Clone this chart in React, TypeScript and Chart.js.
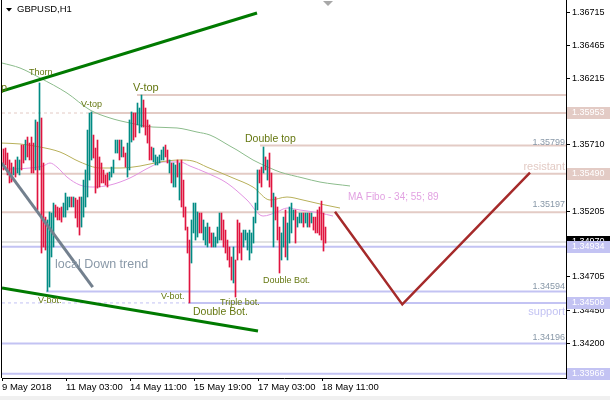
import React, { useEffect, useRef } from 'react';
import { Chart, registerables } from 'chart.js';

Chart.register(...registerables);

// ---------------- data ----------------
const symbolTitle = 'GBPUSD,H1';
const xTickLabels = ['9 May 2018', '11 May 03:00', '14 May 11:00', '15 May 19:00', '17 May 03:00', '18 May 11:00'];
const xTickBars = [-0.75, 31.25, 63.25, 95.25, 127.25, 159.25];
const yTickValues = [1.36715, 1.36465, 1.36215, 1.3596, 1.3571, 1.3546, 1.35205, 1.34955, 1.34705, 1.3445, 1.342, 1.3395];
const xMin = -0.75;
const xMax = 281.25;
const yMin = 1.33934;
const yMax = 1.36814;

const barHigh = [
  1.35679, 1.35686, 1.35648, 1.35595, 1.35572, 1.35541, 1.35595, 1.35618, 1.35595, 1.35709,
  1.35709, 1.35747, 1.3577, 1.35724, 1.3577, 1.35724, 1.359, 1.35884, 1.36182, 1.35915,
  1.35572, 1.3516, 1.35138, 1.35199, 1.35191, 1.35267, 1.35252, 1.35237, 1.35229, 1.35237,
  1.35267, 1.35343, 1.35313, 1.35313, 1.35313, 1.35313, 1.35305, 1.3529, 1.35313, 1.35313,
  1.35442, 1.35519, 1.35823, 1.35953, 1.35961, 1.35785, 1.35686, 1.35747, 1.35618, 1.35572,
  1.35519, 1.35481, 1.35496, 1.35503, 1.35541, 1.35595, 1.35747, 1.35747, 1.35747, 1.35747,
  1.35694, 1.35648, 1.35724, 1.359, 1.35961, 1.35953, 1.35953, 1.36029, 1.35991, 1.3609,
  1.36052, 1.35991, 1.359, 1.35862, 1.35694, 1.35686, 1.35633, 1.35618, 1.35633, 1.35671,
  1.35694, 1.35709, 1.35671, 1.35595, 1.35572, 1.35572, 1.35557, 1.35595, 1.35572, 1.35595,
  1.35442, 1.35237, 1.35084, 1.34985, 1.35138, 1.35267, 1.35267, 1.35199, 1.35191, 1.35191,
  1.35138, 1.35084, 1.35115, 1.35084, 1.35039, 1.35039, 1.35008, 1.35084, 1.35191, 1.35191,
  1.35138, 1.35061, 1.34985, 1.34932, 1.34856, 1.34932, 1.34833, 1.35138, 1.35115, 1.35039,
  1.35061, 1.35061, 1.35039, 1.35061, 1.35039, 1.3516, 1.35267, 1.35519, 1.35519, 1.35541,
  1.35694, 1.35618, 1.35595, 1.35648, 1.35496, 1.35343, 1.35313, 1.35237, 1.35084, 1.35039,
  1.3516, 1.35214, 1.35115, 1.35237, 1.35267, 1.35214, 1.35214, 1.3516, 1.35191, 1.35191,
  1.35191, 1.35191, 1.35191, 1.35191, 1.35191, 1.3516, 1.3516, 1.35214, 1.35237, 1.35282,
  1.35191, 1.35084,
];
const barLow = [
  1.35519, 1.35557, 1.35481, 1.3542, 1.35427, 1.35481, 1.35465, 1.35496, 1.35481, 1.35519,
  1.35572, 1.35595, 1.35618, 1.35595, 1.35496, 1.35496, 1.35519, 1.35214, 1.35519, 1.34886,
  1.34932, 1.34909, 1.34594, 1.34627, 1.34856, 1.34932, 1.3516, 1.35138, 1.35138, 1.35122,
  1.3516, 1.3516, 1.35214, 1.35237, 1.35237, 1.35237, 1.35153, 1.35084, 1.35023, 1.35084,
  1.3516, 1.35237, 1.35313, 1.35442, 1.35595, 1.3561, 1.35343, 1.35381, 1.35389, 1.3542,
  1.3542, 1.35404, 1.35389, 1.35442, 1.35465, 1.35496, 1.35648, 1.35648, 1.35595, 1.35618,
  1.35618, 1.35541, 1.35465, 1.35519, 1.35732, 1.35747, 1.3577, 1.35862, 1.35801, 1.35846,
  1.35846, 1.35785, 1.35724, 1.35595, 1.35595, 1.3558, 1.35557, 1.35557, 1.35572, 1.35595,
  1.35595, 1.35618, 1.35572, 1.35496, 1.3542, 1.35389, 1.35389, 1.35465, 1.3529, 1.35237,
  1.3516, 1.35061, 1.34886, 1.34506, 1.3481, 1.35039, 1.34985, 1.35008, 1.35039, 1.35039,
  1.34985, 1.34947, 1.34932, 1.34962, 1.34932, 1.34932, 1.34932, 1.34962, 1.34985, 1.34985,
  1.34932, 1.34886, 1.34833, 1.34779, 1.3468, 1.34658, 1.34551, 1.34833, 1.34886, 1.34833,
  1.34932, 1.34985, 1.34909, 1.34833, 1.34886, 1.34962, 1.35115, 1.35214, 1.3542, 1.35389,
  1.35496, 1.35519, 1.35442, 1.35389, 1.35237, 1.34932, 1.35138, 1.34985, 1.34734, 1.34833,
  1.34932, 1.34856, 1.34833, 1.34962, 1.35039, 1.35138, 1.34962, 1.35084, 1.35115, 1.35115,
  1.35084, 1.35115, 1.35084, 1.35084, 1.35115, 1.35061, 1.35039, 1.35039, 1.35023, 1.34985,
  1.34901, 1.34962,
];
const barUp = [
  0, 0, 0, 0, 0, 1, 0, 1, 1, 0,
  0, 1, 0, 0, 0, 0, 1, 0, 1, 0,
  0, 0, 1, 1, 1, 1, 0, 0, 0, 0,
  1, 1, 1, 1, 0, 1, 0, 0, 0, 1,
  1, 1, 1, 1, 1, 0, 0, 0, 0, 0,
  0, 0, 0, 1, 1, 1, 1, 1, 0, 1,
  0, 0, 1, 1, 1, 0, 0, 1, 1, 1,
  0, 0, 0, 0, 0, 1, 1, 1, 1, 1,
  1, 0, 0, 1, 0, 1, 1, 0, 1, 0,
  0, 0, 0, 0, 1, 1, 1, 1, 0, 0,
  1, 1, 1, 0, 0, 1, 1, 1, 1, 0,
  0, 0, 0, 0, 0, 1, 0, 0, 0, 0,
  1, 1, 1, 1, 1, 1, 1, 1, 0, 0,
  1, 0, 1, 0, 0, 1, 0, 0, 0, 1,
  1, 0, 1, 1, 1, 1, 0, 1, 1, 1,
  0, 1, 1, 0, 1, 0, 0, 0, 0, 0,
  0, 0,
];

// Moving averages (34, 55, 89)
const ma89X = [-0.75, 8.25, 18.25, 31.75, 43.25, 53.25, 63.25, 74.75, 86.75, 96.75, 103.25, 113.25, 116.75, 124.75, 133.25, 138.25, 149.75, 158.25, 173.25];
const ma89Y = [1.36334, 1.36296, 1.3622, 1.36105, 1.35976, 1.35915, 1.35877, 1.35846, 1.35839, 1.35808, 1.35785, 1.35701, 1.35671, 1.35595, 1.35534, 1.35503, 1.35458, 1.35427, 1.35397];
const ma55X = [-0.75, 8.25, 18.25, 28.25, 38.25, 48.25, 58.25, 68.25, 78.25, 88.25, 94.75, 101.75, 114.75, 124.75, 133.25, 141.75, 149.75, 158.25, 168.25];
const ma55Y = [1.35724, 1.35717, 1.35694, 1.35656, 1.3558, 1.35534, 1.35534, 1.35549, 1.3558, 1.35595, 1.35587, 1.35541, 1.35458, 1.35389, 1.3529, 1.35313, 1.3529, 1.3526, 1.35229];
const ma34X = [-0.75, 3.25, 13.25, 19.75, 23.25, 26.75, 31.75, 38.25, 44.75, 53.25, 63.25, 73.25, 79.75, 88.25, 93.25, 101.75, 111.75, 121.75, 129.75, 136.75, 141.75, 148.25, 158.25, 164.75];
const ma34Y = [1.35534, 1.35526, 1.35534, 1.35549, 1.35572, 1.35541, 1.35465, 1.35404, 1.35389, 1.35404, 1.35458, 1.35541, 1.3558, 1.3558, 1.35549, 1.35496, 1.35419, 1.3529, 1.35168, 1.35199, 1.35229, 1.35214, 1.35191, 1.35168];

// Horizontal levels
const levelPrices = [1.3609, 1.35953, 1.35705, 1.3549, 1.35197, 1.34934, 1.34594, 1.34506, 1.34196, 1.33966];
const levelStartBars = [66.75, 43.25, 128.25, -0.75, -0.75, -0.75, 21.25, 92.25, -0.75, -0.75];
const levelKinds = ['r', 'r', 'r', 'r', 'r', 's', 's', 's', 's', 's'];
const dashedLevelPrices = [1.35953, 1.34506];
const dashedLevelEnds = [43.25, 92.25];
const dashedLevelKinds = ['r', 's'];
const currentPrice = 1.3497;

// Trend lines
const upperChannelX = [-0.75, 126.75];
const upperChannelY = [1.36121, 1.36715];
const lowerChannelX = [-0.75, 127.25];
const lowerChannelY = [1.34619, 1.34292];
const downTrendX = [-0.9, 44.6];
const downTrendY = [1.35572, 1.34627];
const forecastX = [165.75, 199.4, 263.25];
const forecastY = [1.35201, 1.34495, 1.35498];

// Price tags on the axis
const tagPrices = [1.35953, 1.3549, 1.34934, 1.34506, 1.33966];
const tagKinds = ['r', 'r', 's', 's', 's'];

// Text annotations
const noteTexts = ['V-top', 'Thorn', 'V-top', 'V-top', 'Double top', 'MA Fibo - 34; 55; 89', 'local Down trend', 'V-bot.', 'V-bot.', 'Triple bot.', 'Double Bot.', 'Double Bot.', 'resistant', 'support', '1.35799', '1.35197', '1.34594', '1.34196'];
const noteBars = [1.75, 12.75, 38.75, 64.75, 120.75, 172.25, 25.75, 17.25, 78.75, 108.25, 94.75, 129.75, 280.75, 280.75, 280.75, 280.75, 280.75, 280.75];
const notePrices = [1.3614, 1.36258, 1.36014, 1.36143, 1.35755, 1.35313, 1.34795, 1.34524, 1.34555, 1.34509, 1.34437, 1.3468, 1.35541, 1.3444, 1.35727, 1.35252, 1.34629, 1.34241];
const noteKinds = ['bigR', 'pat', 'pat', 'big', 'mid', 'ma', 'trend', 'pat', 'pat', 'pat', 'mid', 'pat', 'res', 'sup', 'price', 'price', 'price', 'price'];

// ---------------- styles ----------------
const FONT = "'Liberation Sans', Arial, sans-serif";
const UP = '#008b84';
const DOWN = '#e0143f';
const RES = '#e3cbc5';
const SUP = '#c3c3f3';
const kindColor = (k: string) => (k === 'r' ? RES : SUP);
const noteStyle: Record<string, { size: number; color: string; align: CanvasTextAlign }> = {
  pat: { size: 9, color: '#667812', align: 'left' },
  big: { size: 11, color: '#667812', align: 'left' },
  bigR: { size: 11, color: '#667812', align: 'right' },
  mid: { size: 10.5, color: '#667812', align: 'left' },
  ma: { size: 10, color: '#e2a2e2', align: 'left' },
  trend: { size: 12.5, color: '#8a99a8', align: 'left' },
  res: { size: 11, color: RES, align: 'right' },
  sup: { size: 11, color: SUP, align: 'right' },
  price: { size: 9, color: '#8797a7', align: 'right' },
};

const pts = (xs: number[], ys: number[]) => xs.map((x, i) => ({ x, y: ys[i] }));

const overlay = {
  id: 'overlay',
  afterDatasetsDraw(chart: any) {
    const { ctx, chartArea: a, scales } = chart;
    const x = scales.x;
    const y = scales.y;
    ctx.save();
    ctx.beginPath();
    ctx.rect(a.left, a.top, a.right - a.left, a.bottom - a.top);
    ctx.clip();
    ctx.textBaseline = 'middle';
    noteTexts.forEach((t, i) => {
      const st = noteStyle[noteKinds[i]];
      ctx.font = `${st.size}px ${FONT}`;
      ctx.fillStyle = st.color;
      ctx.textAlign = st.align;
      ctx.fillText(t, x.getPixelForValue(noteBars[i]), y.getPixelForValue(notePrices[i]));
    });
    ctx.restore();
  },
  afterDraw(chart: any) {
    const { ctx, chartArea: a, scales } = chart;
    const y = scales.y;
    ctx.save();
    // left frame
    ctx.fillStyle = '#000';
    ctx.fillRect(1, 0, 1, a.bottom);
    // price tags
    ctx.font = `9px ${FONT}`;
    ctx.textBaseline = 'middle';
    ctx.textAlign = 'left';
    const tag = (p: number, bg: string) => {
      const py = Math.round(y.getPixelForValue(p));
      ctx.fillStyle = bg;
      ctx.fillRect(a.right + 1, py - 6, 610 - a.right - 1, 12);
      ctx.fillStyle = '#fff';
      ctx.fillText(p.toFixed(5), a.right + 6, py);
    };
    tag(currentPrice, '#000');
    tagPrices.forEach((p, i) => tag(p, kindColor(tagKinds[i])));
    // title
    ctx.fillStyle = '#000';
    ctx.beginPath();
    ctx.moveTo(6, 8);
    ctx.lineTo(12, 8);
    ctx.lineTo(9, 11.5);
    ctx.closePath();
    ctx.fill();
    ctx.font = `9.5px ${FONT}`;
    ctx.fillText(symbolTitle, 17, 9);
    // shift marker
    ctx.fillStyle = '#a8a8a8';
    ctx.beginPath();
    ctx.moveTo(323, 1);
    ctx.lineTo(333, 1);
    ctx.lineTo(328, 6);
    ctx.closePath();
    ctx.fill();
    // bottom strip
    ctx.fillStyle = '#f0f0f0';
    ctx.fillRect(0, 396, 610, 4);
    ctx.restore();
  },
};

export default function App() {
  const ref = useRef<HTMLCanvasElement>(null);
  useEffect(() => {
    document.body.style.margin = '0';
    const canvas = ref.current;
    if (!canvas) return;
    const datasets: any[] = [];
    const line = (data: any[], color: string, width: number, order: number, extra: any = {}) => ({
      type: 'line',
      data,
      borderColor: color,
      borderWidth: width,
      pointRadius: 0,
      fill: false,
      tension: 0,
      order,
      ...extra,
    });
    dashedLevelPrices.forEach((p, i) => {
      datasets.push(line([{ x: xMin, y: p }, { x: dashedLevelEnds[i], y: p }], kindColor(dashedLevelKinds[i]), 1, 9, { borderDash: [3, 3] }));
    });
    levelPrices.forEach((p, i) => {
      datasets.push(line([{ x: levelStartBars[i], y: p }, { x: xMax, y: p }], kindColor(levelKinds[i]), 2, 8));
    });
    datasets.push(line([{ x: xMin, y: currentPrice }, { x: xMax, y: currentPrice }], '#c4c4c4', 1, 8));
    datasets.push(line(pts(ma89X, ma89Y), '#8cbc8c', 1, 7, { cubicInterpolationMode: 'monotone' }));
    datasets.push(line(pts(ma55X, ma55Y), '#b8b05a', 1, 7, { cubicInterpolationMode: 'monotone' }));
    datasets.push(line(pts(ma34X, ma34Y), '#e293e2', 1, 7, { cubicInterpolationMode: 'monotone' }));
    datasets.push({
      type: 'bar',
      data: barHigh.map((h, i) => ({ x: i, y: [barLow[i], h] })),
      backgroundColor: barUp.map((u) => (u ? UP : DOWN)),
      barThickness: 1,
      borderWidth: 0,
      grouped: false,
      order: 5,
    });
    datasets.push(line(pts(upperChannelX, upperChannelY), '#007a00', 3, 3));
    datasets.push(line(pts(lowerChannelX, lowerChannelY), '#007a00', 3, 3));
    datasets.push(line(pts(downTrendX, downTrendY), '#73808e', 3, 3));
    datasets.push(line(pts(forecastX, forecastY), '#a52a2a', 2.5, 2));

    const chart = new Chart(canvas, {
      type: 'bar',
      data: { datasets },
      options: {
        responsive: false,
        animation: false,
        devicePixelRatio: 1,
        events: [],
        layout: { padding: { left: 2, right: 0, top: 0, bottom: 0 } },
        plugins: { legend: { display: false }, tooltip: { enabled: false } },
        scales: {
          x: {
            type: 'linear',
            min: xMin,
            max: xMax,
            offset: false,
            afterBuildTicks: (s: any) => {
              s.ticks = xTickBars.map((v) => ({ value: v }));
            },
            afterFit: (s: any) => {
              s.height = 22;
              s.paddingLeft = 0;
              s.paddingRight = 0;
            },
            ticks: {
              autoSkip: false,
              maxRotation: 0,
              align: 'start',
              padding: 1,
              color: '#000',
              font: { family: FONT, size: 9.5 },
              callback: (_v: any, i: number) => xTickLabels[i],
            },
            grid: { drawOnChartArea: false, drawTicks: true, tickLength: 3, color: '#000', offset: false },
            border: { display: true, color: '#000' },
          },
          y: {
            type: 'linear',
            position: 'right',
            min: yMin,
            max: yMax,
            afterBuildTicks: (s: any) => {
              s.ticks = yTickValues.map((v) => ({ value: v }));
            },
            afterFit: (s: any) => {
              s.width = 44;
              s.paddingTop = 0;
              s.paddingBottom = 0;
            },
            ticks: {
              padding: 2,
              color: '#000',
              font: { family: FONT, size: 9 },
              callback: (v: any) => Number(v).toFixed(5),
            },
            grid: { drawOnChartArea: false, drawTicks: true, tickLength: 4, color: '#000' },
            border: { display: true, color: '#000' },
          },
        },
      } as any,
      plugins: [overlay],
    });
    return () => chart.destroy();
  }, []);
  return <canvas ref={ref} width={610} height={400} style={{ display: 'block' }} />;
}
